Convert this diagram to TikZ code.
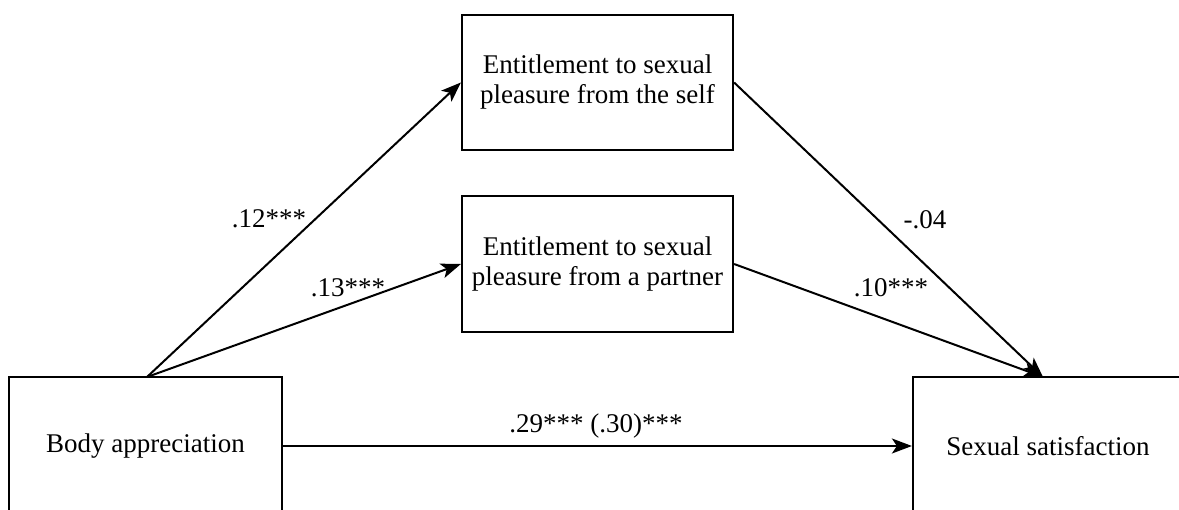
\documentclass[tikz,border=0pt]{standalone}
\usepackage{fontspec}
\setmainfont{Liberation Serif}
\usetikzlibrary{arrows.meta}
\begin{document}
\begin{tikzpicture}[x=1pt,y=-1pt,
  box/.style={draw, line width=2.2pt, align=center, inner sep=0pt,
    font=\fontsize{27}{30}\selectfont},
  conn/.style={line width=2pt, -{Stealth[length=20pt,width=15pt,inset=5pt]}},
  lbl/.style={font=\fontsize{27}{30}\selectfont, inner sep=0pt}]
\useasboundingbox (0,0) rectangle (1179,510);
\clip (0,0) rectangle (1179,510);
\node[box, minimum width=273pt, minimum height=138pt] (body) at (145.5,446) {Body appreciation};
\node[box, minimum width=270pt, minimum height=138pt] (sat) at (1048,446) {Sexual satisfaction};
\node[box, minimum width=271pt, minimum height=135pt] (self) at (597.5,82.5) {Entitlement to sexual\\pleasure from the self};
\node[box, minimum width=271pt, minimum height=136pt] (partner) at (597.5,264) {Entitlement to sexual\\pleasure from a partner};
\coordinate (bs) at (147,377);
\coordinate (st) at (1043,377);
\draw[conn] (bs) -- (self.west);
\draw[conn] (bs) -- (partner.west);
\draw[conn] (self.east) -- (st);
\draw[conn] (partner.east) -- (st);
\draw[conn] (body.east) -- (sat.west);
\node[lbl] (l1) at (269,219) {.12***};
\node[lbl] (l2) at (348,288) {.13***};
\node[lbl] (l3) at (925,220) {-.04};
\node[lbl] (l4) at (891,288) {.10***};
\node[lbl] (l5) at (596,426) {.29*** (.30)***};
\end{tikzpicture}
\end{document}
